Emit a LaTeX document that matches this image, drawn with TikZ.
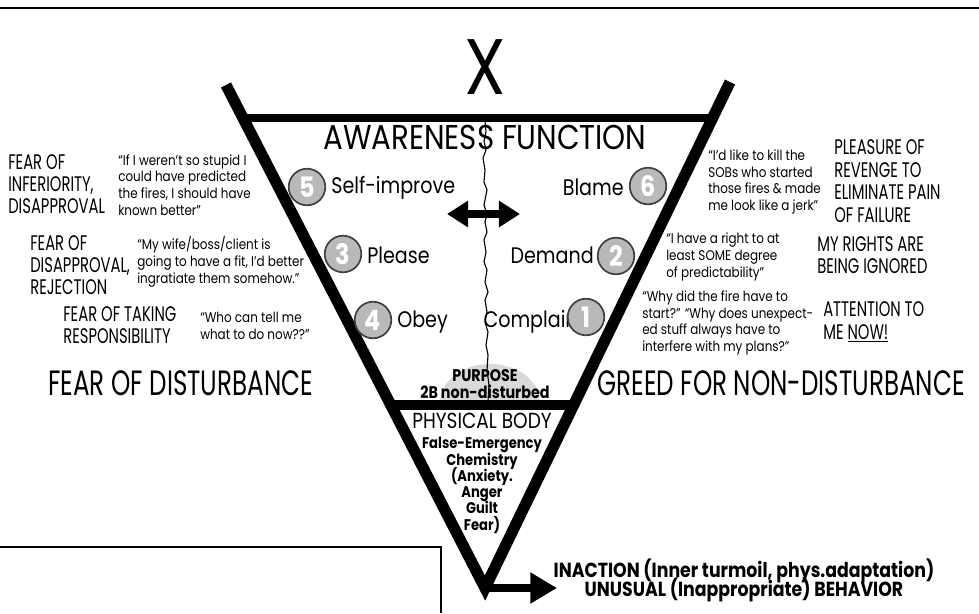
\documentclass[tikz,border=0pt]{standalone}
\usepackage{fontspec}
\setmainfont{Poppins}[FakeStretch=0.85]
\newfontfamily\capfont{Poppins}[FakeStretch=0.7]
\usetikzlibrary{arrows.meta}
\lineskiplimit=-30pt

\tikzset{
  arm/.style={line width=8pt},
  bar/.style={line width=6pt},
  ball/.style={circle, fill=gray!55, draw=black!75, line width=1.2pt, minimum size=26pt,
    inner sep=0pt, text=white, font=\fontsize{20}{20}\selectfont\bfseries},
  mode/.style={inner sep=0pt, font=\fontsize{16}{16}\selectfont},
  fearlbl/.style={align=left, inner sep=0pt, anchor=west, font=\capfont\fontsize{15}{15.5}\selectfont},
  saying/.style={align=left, inner sep=0pt, anchor=west, font=\fontsize{10}{12}\selectfont},
  biglbl/.style={inner sep=0pt, anchor=west, font=\capfont\fontsize{25}{25}\selectfont},
}

\begin{document}
\begin{tikzpicture}[x=0.025cm, y=-0.025cm]
\useasboundingbox (0,0) rectangle (979,613);

% scan edge and box
\draw[line width=1.2pt] (0,8) -- (979,8);
\coordinate (boxl) at (0,547);
\coordinate (boxc) at (441,547);
\coordinate (boxb) at (441,613);
\draw[line width=0.9pt] (boxl) -- (boxc) -- (boxb);

% the funnel
\coordinate (tl) at (226,85);
\coordinate (tr) at (730,82);
\coordinate (bot) at (485,588);
\coordinate (topl) at (243,118);
\coordinate (topr) at (713,118);
\coordinate (lowl) at (391,405);
\coordinate (lowr) at (575,405);

\fill[gray!30] (440,402) arc[start angle=180, end angle=0, x radius=1.25cm, y radius=0.95cm];

\draw[arm, line join=miter] (tl) -- (bot) -- (tr);
\draw[bar] (topl) -- (topr);
\draw[line width=7pt] (lowl) -- (lowr);

\node[inner sep=0pt, font=\fontsize{56}{56}\selectfont] (bigx) at (485,67) {X};

% crack down the middle
\draw[line width=0.8pt] plot coordinates {(485,121) (486,132) (484,141) (486,150) (483,158)
  (485,170) (484,182) (487,190) (485,200) (484,205) (487,214) (485,222) (487,232) (484,240)
  (486,252) (484,262) (487,270) (485,282) (488,292) (485,300) (487,312) (485,322) (488,332)
  (486,345) (488,355) (487,370) (489,385) (488,401)};

\node[inner sep=0pt, font=\fontsize{24.5}{24.5}\selectfont] (awareness) at (485,137) {AWARENESS FUNCTION};

\coordinate (dl) at (447,214);
\coordinate (dr) at (520,214);
\draw[line width=5pt, {Triangle[length=15pt,width=18pt]}-{Triangle[length=15pt,width=18pt]}] (dl) -- (dr);

% left modes
\node[ball] (n5) at (307,187) {5};
\node[mode, anchor=west] (selfimp) at (331,188) {Self-improve};
\node[ball] (n3) at (343,254) {3};
\node[mode, anchor=west] (please) at (367,255) {Please};
\node[ball] (n4) at (373,320) {4};
\node[mode, anchor=west] (obey) at (397,322) {Obey};

% right modes
\node[mode, anchor=east] (blame) at (624,187) {Blame};
\node[ball] (n6) at (648,186) {6};
\node[mode, anchor=east] (demand) at (594,255) {Demand};
\node[ball] (n2) at (616,256) {2};
\node[mode, anchor=east] (complain) at (578,322) {Complain};
\node[ball] (n1) at (586,317) {1};

\node[inner sep=0pt, align=center, font=\fontsize{12}{12.5}\selectfont\bfseries] (purpose) at (485,384)
  {PURPOSE\\2B non-disturbed};

\node[inner sep=0pt, font=\fontsize{15.5}{15.5}\selectfont] (body) at (482,421) {PHYSICAL BODY};
\node[inner sep=0pt, align=center, anchor=north, font=\fontsize{11}{11.6}\selectfont\bfseries] (chem) at (482,437)
  {False-Emergency\\Chemistry\\(Anxiety.\\Anger\\Guilt\\Fear)};

% way out
\coordinate (tip) at (557,588);
\draw[line width=6pt, -{Triangle[length=19pt,width=21pt]}] (bot) -- (tip);
\node[inner sep=0pt, align=center, font=\fontsize{14.5}{13.5}\selectfont\bfseries] (inaction) at (744,580)
  {INACTION (Inner turmoil, phys.adaptation)\\UNUSUAL (Inappropriate) BEHAVIOR};

% fears, left
\node[fearlbl] (fearinf) at (8,184) {FEAR OF\\INFERIORITY,\\DISAPPROVAL};
\node[saying] (quoteinf) at (118,185) {“If I weren't so stupid I\\could have predicted\\the fires, I should have\\known better”};
\node[fearlbl] (fearrej) at (30,265) {FEAR OF\\DISAPPROVAL,\\REJECTION};
\node[saying] (quoterej) at (137,262) {“My wife/boss/client is\\going to have a fit, I'd better\\ingratiate them somehow.”};
\node[fearlbl] (fearresp) at (63,325) {FEAR OF TAKING\\RESPONSIBILITY};
\node[saying] (quoteresp) at (200,326) {“Who can tell me\\what to do now??”};
\node[biglbl] (feardist) at (48,383) {FEAR OF DISTURBANCE};

% greeds, right
\node[saying] (quoterev) at (708,182) {“I'd like to kill the\\SOBs who started\\those fires \& made\\me look like a jerk”};
\node[fearlbl, font=\capfont\fontsize{15}{16}\selectfont] (revenge) at (834,181) {PLEASURE OF\\REVENGE TO\\ELIMINATE PAIN\\OF FAILURE};
\node[saying] (quoterights) at (666,257) {“I have a right to at\\least SOME degree\\of predictability”};
\node[fearlbl, font=\capfont\fontsize{15}{16}\selectfont] (rights) at (817,255) {MY RIGHTS ARE\\BEING IGNORED};
\node[saying] (quoteattn) at (642,323) {“Why did the fire have to\\start?” “Why does unexpect-\\ed stuff always have to\\interfere with my plans?”};
\node[fearlbl, font=\capfont\fontsize{15}{16}\selectfont] (attn) at (823,322) {ATTENTION TO\\ME \underline{NOW!}};
\node[biglbl] (greed) at (597,383) {GREED FOR NON-DISTURBANCE};
\end{tikzpicture}
\end{document}
